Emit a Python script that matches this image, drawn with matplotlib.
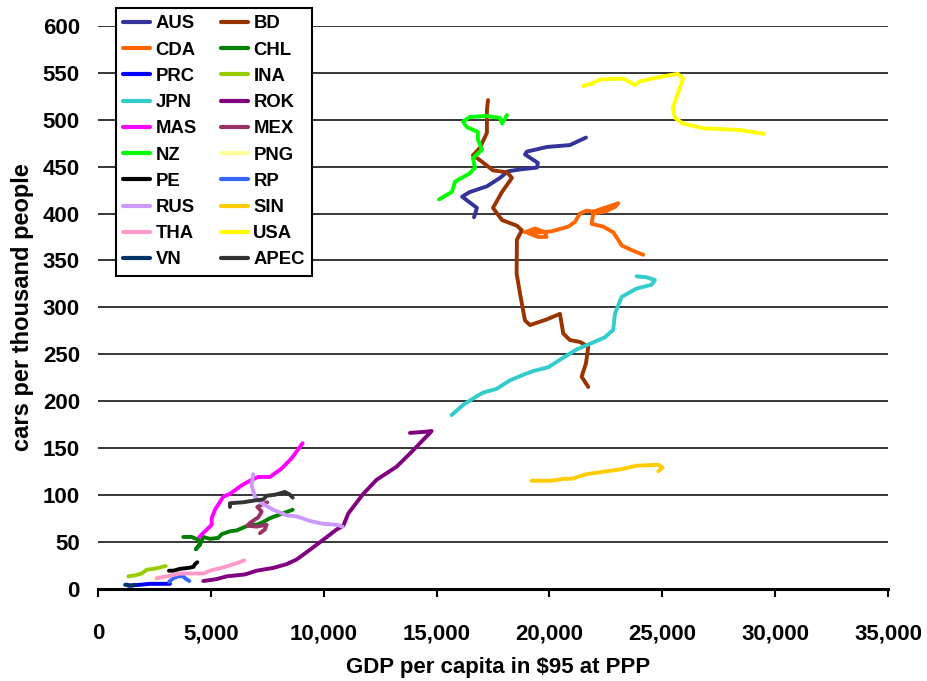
import matplotlib
matplotlib.use("Agg")
import matplotlib.pyplot as plt
from matplotlib.ticker import FuncFormatter

plt.rcParams["font.family"] = ["Liberation Sans", "DejaVu Sans"]
plt.rcParams["font.weight"] = "bold"

# trayectorias: PIB per capita vs autos por mil habitantes
aus_x = [16660, 16790, 16130, 16480, 17230, 17810, 18160, 18690, 19450, 19490, 18920, 19000, 19890, 20910, 21260, 21620]
aus_y = [396, 406, 418, 423, 429, 438, 445, 447, 449, 454, 463, 466, 471, 473, 477, 481]

bd_x = [17280, 17230, 17230, 16920, 16610, 16920, 17500, 18120, 18340, 17900, 17500, 17900, 18560, 18780, 18560,
        18547, 18695, 18916, 19138, 19876, 20467, 20614, 20910, 21353, 21721, 21618, 21428, 21721]
bd_y = [521, 510, 486, 470, 462, 457, 446, 444, 438, 423, 406, 393, 387, 382, 372,
        336, 315, 286, 281, 287, 293, 272, 265, 263, 258, 240, 226, 215]

cda_x = [18916, 19359, 19802, 19876, 19506, 19063, 20098, 20835, 21131, 21353, 21648, 21943, 22314, 22828, 23050,
         22903, 22460, 21943, 21870, 22386, 22828, 23050, 23198, 23641, 24157]
cda_y = [380, 384, 380, 375, 375, 379, 381, 386, 391, 400, 403, 402, 405, 409, 411,
         407, 402, 400, 389, 386, 380, 372, 366, 361, 356]

chl_x = [3780, 4150, 4445, 4520, 4340, 4520, 4666, 4961, 5331, 5479, 5848, 6144, 6437, 6734, 7030, 7323, 7620, 8063, 8625]
chl_y = [55, 55, 52, 47, 42, 47, 55, 53, 54, 58, 61, 62, 65, 68, 68, 71, 75, 79, 84]

prc_x = [1344, 1860, 2300, 2820, 3190]
prc_y = [3, 4, 5, 5, 5]

ina_x = [1344, 1639, 1934, 2156, 2451, 2673, 2998]
ina_y = [13, 14, 16, 20, 21, 22, 24]

jpn_x = [15668, 16182, 16773, 17069, 17660, 18252, 18842, 19285, 19950, 20467, 21206, 21796, 22460, 22828, 22903,
         23198, 23863, 24527, 24675, 24306, 23863]
jpn_y = [185, 196, 205, 209, 213, 222, 228, 232, 236, 244, 255, 261, 268, 276, 293,
         311, 320, 324, 329, 332, 333]

rok_x = [4666, 5257, 5700, 6512, 7030, 7768, 8360, 8803, 9316, 9980, 10574, 10870, 11088, 11753, 12345, 13232,
         13822, 14265, 14708, 14782, 14412, 13822]
rok_y = [8, 10, 13, 15, 19, 22, 26, 31, 40, 52, 63, 67, 80, 101, 116, 130,
         144, 155, 166, 168, 167, 166]

mas_x = [4488, 4740, 5037, 5037, 5183, 5552, 5848, 6366, 6809, 7104, 7620, 8138, 8581, 9068]
mas_y = [55, 61, 68, 75, 84, 98, 101, 110, 116, 119, 119, 128, 139, 155]

mex_x = [7500, 7057, 7252, 7103, 6734, 6614, 7030, 7473, 7398, 7176]
mex_y = [92, 87, 82, 76, 70, 67, 66, 68, 63, 59]

nz_x = [15110, 15680, 15820, 16480, 16700, 16610, 17010, 16830, 16830, 16350, 16170, 16480, 17230, 17810, 17900, 18120]
nz_y = [415, 423, 434, 443, 449, 459, 468, 479, 487, 492, 498, 503, 504, 502, 496, 505]

png_x = [2525, 2673]
png_y = [10, 12]

pe_x = [3145, 3337, 3633, 4002, 4224, 4298, 4400]
pe_y = [19, 19, 21, 22, 23, 26, 28]

rp_x = [3145, 3337, 3559, 3780, 3855, 4046]
rp_y = [7, 11, 13, 13, 11, 8]

rus_x = [6880, 6806, 6955, 7252, 7766, 8360, 8803, 9392, 9980, 10574, 10840]
rus_y = [122, 110, 98, 91, 84, 78, 77, 72, 69, 68, 66]

sin_x = [19212, 20098, 20614, 20985, 21648, 22239, 23125, 23863, 24823, 25012, 24823]
sin_y = [115, 115, 117, 117, 122, 124, 127, 131, 132, 129, 125]

tha_x = [2600, 3043, 3633, 4150, 4666, 4961, 5626, 6144, 6481]
tha_y = [11, 13, 16, 16, 16, 19, 23, 27, 30]

usa_x = [21490, 21930, 22240, 23260, 23790, 24010, 24760, 25690, 25920, 25470, 25560, 25920, 26800, 28440, 29500]
usa_y = [536, 539, 543, 544, 537, 541, 545, 549, 544, 513, 502, 496, 491, 489, 485]

vn_x = [1200, 1300, 1450, 1650]
vn_y = [4, 4, 3, 4]

apec_x = [5848, 5848, 6437, 6955, 7323, 7473, 7841, 8284, 8506, 8625]
apec_y = [87, 91, 92, 94, 95, 99, 100, 103, 100, 97]

series = [
    ("AUS", aus_x, aus_y, "#333399"),
    ("BD", bd_x, bd_y, "#993300"),
    ("CDA", cda_x, cda_y, "#FF6600"),
    ("CHL", chl_x, chl_y, "#008000"),
    ("PRC", prc_x, prc_y, "#0000FF"),
    ("INA", ina_x, ina_y, "#99CC00"),
    ("JPN", jpn_x, jpn_y, "#33CCCC"),
    ("ROK", rok_x, rok_y, "#800080"),
    ("MAS", mas_x, mas_y, "#FF00FF"),
    ("MEX", mex_x, mex_y, "#993366"),
    ("NZ", nz_x, nz_y, "#00FF00"),
    ("PNG", png_x, png_y, "#FFFF99"),
    ("PE", pe_x, pe_y, "#000000"),
    ("RP", rp_x, rp_y, "#3366FF"),
    ("RUS", rus_x, rus_y, "#CC99FF"),
    ("SIN", sin_x, sin_y, "#FFCC00"),
    ("THA", tha_x, tha_y, "#FF99CC"),
    ("USA", usa_x, usa_y, "#FFFF00"),
    ("VN", vn_x, vn_y, "#003366"),
    ("APEC", apec_x, apec_y, "#333333"),
]

fig = plt.figure(figsize=(9.27, 6.81), dpi=100)
ax = fig.add_axes([0.1057, 0.1358, 0.8522, 0.826])

lineas = {}
for nombre, xs, ys, color in series:
    l, = ax.plot(xs, ys, color=color, lw=2.8, solid_capstyle="round", solid_joinstyle="round", label=nombre)
    lineas[nombre] = l

ax.set_xlim(0, 35000)
ax.set_ylim(0, 600)
ax.set_xticks(range(0, 35001, 5000))
ax.set_yticks(range(0, 601, 50))
ax.xaxis.set_major_formatter(FuncFormatter(lambda v, p: f"{int(v):,}"))

ax.grid(axis="y", color="black", lw=1.1)
ax.set_axisbelow(True)
for s in ["top", "right", "left"]:
    ax.spines[s].set_visible(False)
ax.spines["bottom"].set_linewidth(2.2)
ax.spines["bottom"].set_zorder(5)

ax.tick_params(axis="x", direction="out", length=6, width=1.5, pad=19, labelsize=16)
ax.tick_params(axis="y", length=0, pad=13, labelsize=16)
for t in ax.get_xticklabels() + ax.get_yticklabels():
    t.set_fontweight("bold")

ax.set_xlabel("GDP per capita in $95 at PPP", fontsize=16, fontweight="bold")
ax.set_ylabel("cars per thousand people", fontsize=17, fontweight="bold")
ax.xaxis.set_label_coords(0.506, -0.122)
ax.yaxis.set_label_coords(-0.081, 0.5)

# leyenda en dos columnas como en Excel (fila por fila)
orden = ["AUS", "CDA", "PRC", "JPN", "MAS", "NZ", "PE", "RUS", "THA", "VN",
         "BD", "CHL", "INA", "ROK", "MEX", "PNG", "RP", "SIN", "USA", "APEC"]
leg = ax.legend([lineas[n] for n in orden], orden, ncol=2, loc="upper left",
                bbox_to_anchor=(0.1251, 0.9883), bbox_transform=fig.transFigure,
                borderaxespad=0, fancybox=False, framealpha=1, edgecolor="black",
                prop={"size": 13.3, "weight": "bold"}, handlelength=1.45, handletextpad=0.3,
                columnspacing=1.3, labelspacing=0.5, borderpad=0.4)
leg.get_frame().set_linewidth(1.5)
for h in leg.get_lines():
    h.set_linewidth(3)

fig.savefig("out.png", dpi=100)
